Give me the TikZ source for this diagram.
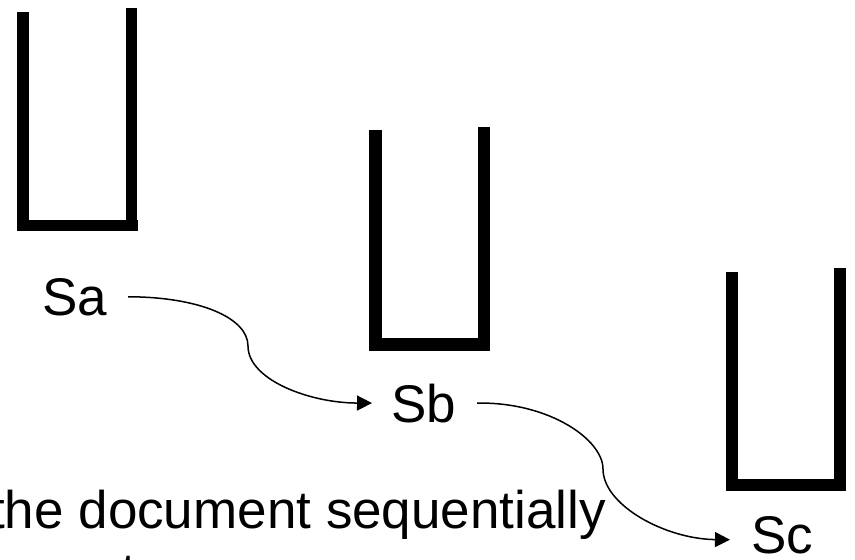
\documentclass[tikz,border=0pt]{standalone}
\usepackage{fontspec}
\setmainfont{Liberation Sans}
\usetikzlibrary{arrows.meta}
\tikzset{
  bar/.style={fill=black},
  lbl/.style={inner sep=0pt, font=\fontsize{53}{64}\selectfont},
  conn/.style={line width=1.5pt, -{Triangle[length=15pt,width=15pt]}}
}
\begin{document}
\begin{tikzpicture}[x=1pt,y=-1pt]
\useasboundingbox (0,0) rectangle (855,560);
\clip (0,0) rectangle (855,560);
% U 1
\fill[bar] (17,12) rectangle (29,231);
\fill[bar] (126,8) rectangle (137,231);
\fill[bar] (17,220) rectangle (138,231);
% U 2
\fill[bar] (369,130) rectangle (382,351);
\fill[bar] (478,127) rectangle (490,351);
\fill[bar] (369,338) rectangle (490,351);
% U 3
\fill[bar] (726,272) rectangle (738,491);
\fill[bar] (834,268) rectangle (846,491);
\fill[bar] (726,479) rectangle (846,491);
% labels
\node[lbl, anchor=base west] (Sa) at (42,315) {Sa};
\node[lbl, anchor=base west] (Sb) at (391,422) {Sb};
\node[lbl, anchor=base west] (Sc) at (751,553) {Sc};
\node[lbl, anchor=base west] (txt) at (-10,528) {the document sequentially};
\node[lbl, anchor=base west] (txt2) at (121,590) {t};
% connectors
\coordinate (m1) at (248,346);
\coordinate (m2) at (603,469);
\draw[conn] ([xshift=21pt]Sa.east) .. controls (200,297) and (248,318) .. (m1)
  .. controls (248,380) and (310,403) .. ([xshift=-19pt]Sb.west);
\draw[conn] ([xshift=21pt]Sb.east) .. controls (550,402) and (603,440) .. (m2)
  .. controls (603,505) and (665,539) .. ([xshift=-21pt,yshift=-5pt]Sc.west);
\end{tikzpicture}
\end{document}
